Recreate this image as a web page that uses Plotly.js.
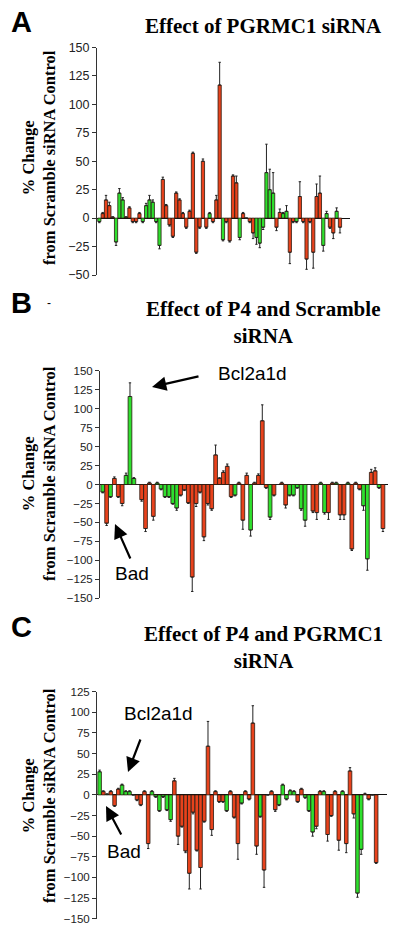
<!DOCTYPE html>
<html>
<head>
<meta charset="utf-8">
<script src="https://cdn.plot.ly/plotly-3.0.1.min.js"></script>
<style>html,body{margin:0;padding:0;background:#fff;}#chart{width:400px;height:934px;}</style>
</head>
<body>
<div id="chart"></div>
<script>
// ---- Panel A: Effect of PGRMC1 siRNA ----
const valuesA = [-3,4,16,11,1,-21,22,16,1,9,-3,-3,4,-3,11,16,14,-3,-24,34,11,-6,-16,22,16,4,-8,6,57,-30,-8,50,-8,4,-3,16,117,-19,-3,-20,37,31,-17,4,0,-3,-13,-17,-22,-8,40,25,22,-8,5,4,6,-30,-3,-3,19,-3,-36,-3,-30,19,22,-24,4,-8,-13,6,-8];
const errorsA = [1,1,4,3,0,3,4,2,0,1,1,1,1,1,2,4,2,1,3,2,1,1,1,1,1,1,1,1,1,1,1,2,1,1,1,4,20,1,1,1,1,6,2,1,0,1,5,6,4,2,25,18,18,3,3,1,5,10,1,1,13,1,9,1,14,11,15,5,2,1,5,3,5];
const groupA  = ['G','R','R','R','R','G','G','G','R','R','R','R','R','G','G','G','G','G','G','R','R','R','R','R','R','R','R','R','R','R','R','R','R','G','R','R','R','G','R','R','R','R','G','R','R','R','R','G','G','G','G','G','G','R','R','G','G','R','R','G','R','R','R','R','R','R','R','G','G','R','R','G','R'];

// ---- Panel B: Effect of P4 and Scramble siRNA ----
const valuesB = [-10,-51,-16,8,-16,-25,12,116,8,0,-20,-58,2,-42,2,-6,-16,-16,-25,-31,-14,-7,-24,-122,-25,-10,-69,-25,-32,39,8,16,24,-16,-14,2,-47,12,-60,2,12,84,-4,-43,-14,0,2,-27,-14,-14,-4,-32,-47,0,-35,-37,2,-37,-37,2,2,-40,-40,2,-85,2,-6,-28,-98,16,18,-4,-58];
const errorsB = [1,3,1,2,1,3,3,18,1,0,2,4,1,5,1,1,1,1,1,3,1,1,1,19,4,1,5,2,2,13,1,2,3,1,1,1,12,3,8,1,2,21,1,3,1,0,1,4,1,1,1,2,8,0,2,9,1,2,9,1,1,6,6,1,2,1,1,6,15,4,4,1,4];
const groupB  = ['G','R','G','R','R','R','G','G','G','R','R','R','R','R','G','G','G','G','G','G','R','R','R','R','R','R','R','R','R','R','R','R','R','R','G','R','R','R','G','R','R','R','R','G','R','R','R','R','G','G','G','G','G','G','R','R','G','G','R','R','G','R','R','G','R','R','R','G','G','R','R','G','R'];

// ---- Panel C: Effect of P4 and PGRMC1 siRNA ----
const valuesC = [28,4,1,4,-13,7,12,4,4,0,-6,-12,4,-59,4,-2,-19,-2,-18,-30,17,-50,-38,-68,-95,-21,-67,-88,-32,59,-42,4,-8,-8,-19,4,-27,-59,-10,4,-5,87,-62,-26,-91,0,4,-18,-12,12,-5,5,4,-8,7,-3,-19,-45,-38,4,4,-48,-25,4,-55,4,-59,29,-23,-119,-66,1,-5,0,-82];
const errorsC = [2,1,0,1,1,1,1,1,1,0,1,1,1,6,1,1,1,1,1,2,3,10,1,2,19,2,1,26,1,30,7,1,1,1,1,1,1,19,1,1,1,21,10,1,21,0,1,2,1,1,1,1,1,1,1,1,1,5,3,1,1,8,1,1,12,1,11,4,5,5,6,1,1,0,1];
const groupC  = ['G','R','G','R','R','R','G','G','G','R','R','R','R','R','G','G','G','G','G','G','R','R','R','R','R','R','R','R','R','R','R','R','R','R','G','R','R','R','G','R','R','R','R','G','R','R','R','R','G','G','G','G','G','R','R','G','G','G','R','R','G','R','R','R','R','G','R','R','R','G','G','R','R','R','R'];

const tickValsA = [-50,-25,0,25,50,75,100,125,150];
const tickValsB = [-150,-125,-100,-75,-50,-25,0,25,50,75,100,125,150];
const tickValsC = [-150,-125,-100,-75,-50,-25,0,25,50,75,100,125];

const RED = '#e8421c', GREEN = '#2ee02e';
const W = 400, H = 934;
const px = x => x / W;
const py = y => 1 - y / H;

function barTrace(vals, errs, groups, xa, ya) {
  const xs = vals.map((_, i) => i);
  return {
    type: 'bar', x: xs, y: vals, xaxis: xa, yaxis: ya,
    marker: { color: groups.map(g => g === 'G' ? GREEN : RED), line: { color: '#2a1a10', width: 0.8 } },
    error_y: {
      type: 'data', symmetric: false,
      array: vals.map((v, i) => v >= 0 ? errs[i] : 0),
      arrayminus: vals.map((v, i) => v < 0 ? errs[i] : 0),
      color: '#222', thickness: 1, width: 1.2
    },
    hoverinfo: 'skip', showlegend: false
  };
}

const data = [
  barTrace(valuesA, errorsA, groupA, 'x', 'y'),
  barTrace(valuesB, errorsB, groupB, 'x2', 'y2'),
  barTrace(valuesC, errorsC, groupC, 'x3', 'y3')
];

function yax(domain, range, ticks, fs) {
  return {
    domain: domain, range: range, tickmode: 'array', tickvals: ticks,
    showline: true, linecolor: '#333', linewidth: 1,
    ticks: 'outside', ticklen: 4, tickcolor: '#333', tickwidth: 1,
    tickfont: { family: 'Liberation Sans, Arial, sans-serif', size: fs, color: '#222' },
    showgrid: false, zeroline: true, zerolinecolor: '#111', zerolinewidth: 1,
    fixedrange: true
  };
}
function xax(domain, range, anchor) {
  return { domain: domain, range: range, anchor: anchor, showline: false, showgrid: false,
           zeroline: false, showticklabels: false, ticks: '', fixedrange: true };
}

const serif = 'Liberation Serif, Times New Roman, serif';
const sans = 'Liberation Sans, Arial, sans-serif';

function txt(x, y, text, size, family, extra) {
  return Object.assign({ xref: 'paper', yref: 'paper', x: px(x), y: py(y), text: text,
    showarrow: false, xanchor: 'center', yanchor: 'middle',
    font: { family: family, size: size, color: '#000' } }, extra || {});
}
function arrow(hx, hy, tx, ty) {
  return { xref: 'paper', yref: 'paper', x: px(hx), y: py(hy), ax: tx - hx, ay: ty - hy,
    axref: 'pixel', ayref: 'pixel', text: '', showarrow: true, arrowhead: 2,
    arrowsize: 1.3, arrowwidth: 2.2, arrowcolor: '#000' };
}
const ytitle = '<b>% Change</b><br><b>from Scramble siRNA Control</b>';

const annotations = [
  txt(21, 22, '<b>A</b>', 29, sans),
  txt(21, 303, '<b>B</b>', 29, sans),
  txt(49, 303, '-', 12, sans),
  txt(21, 627, '<b>C</b>', 29, sans),
  txt(263, 26, '<b>Effect of PGRMC1 siRNA</b>', 21, serif),
  txt(263, 323, '<b>Effect of P4 and Scramble</b><br><b>siRNA</b>', 21, serif),
  txt(263, 647, '<b>Effect of P4 and PGRMC1</b><br><b>siRNA</b>', 21, serif),
  txt(39, 158, ytitle, 16.5, serif, { textangle: -90 }),
  txt(39, 474, ytitle, 16.5, serif, { textangle: -90 }),
  txt(39, 796, ytitle, 16.5, serif, { textangle: -90 }),
  txt(253, 373, 'Bcl2a1d', 19, sans),
  arrow(152, 387, 200, 376),
  txt(132, 573, 'Bad', 19, sans),
  arrow(115, 524, 131, 560),
  txt(158, 713, 'Bcl2a1d', 19, sans),
  arrow(128, 772, 141, 738),
  txt(124, 851, 'Bad', 19, sans),
  arrow(106, 806, 122, 836)
];

const layout = {
  width: W, height: H, margin: { l: 0, r: 0, t: 0, b: 0 },
  paper_bgcolor: '#fff', plot_bgcolor: 'rgba(0,0,0,0)',
  bargap: 0.04, showlegend: false,
  xaxis: xax([px(97), px(350)], [-0.7, 75], 'y'),
  yaxis: yax([py(275), py(47.5)], [-50, 150], tickValsA, 12.5),
  xaxis2: xax([px(100), px(388)], [-0.7, 73.3], 'y2'),
  yaxis2: Object.assign(yax([py(598.3), py(370.7)], [-150, 150], tickValsB, 11.5), { anchor: 'x2' }),
  xaxis3: xax([px(97), px(387)], [-0.7, 76.9], 'y3'),
  yaxis3: Object.assign(yax([py(918.7), py(691.7)], [-150, 125], tickValsC, 11.5), { anchor: 'x3' }),
  annotations: annotations
};
layout.yaxis.anchor = 'x';

Plotly.newPlot('chart', data, layout, { staticPlot: true, displayModeBar: false });
</script>
</body>
</html>
